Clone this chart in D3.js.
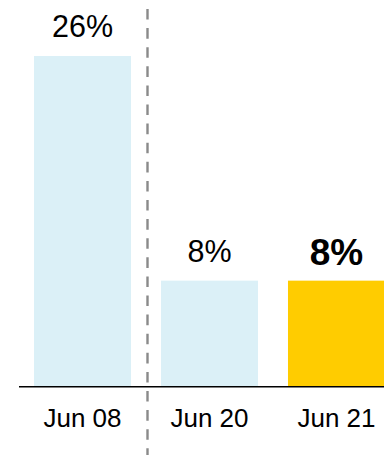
<!DOCTYPE html>
<html>
<head>
<meta charset="utf-8">
<script src="https://cdn.jsdelivr.net/npm/d3@7"></script>
<style>
  html, body { margin: 0; padding: 0; background: #fff; }
  svg { display: block; font-family: "Liberation Sans", Arial, sans-serif; }
</style>
</head>
<body>
<svg id="chart" width="384" height="455"></svg>
<script>
const categories = ["Jun 08", "Jun 20", "Jun 21"];
const values = [26, 8.3, 8.3];
const highlight = [false, false, true];

const W = 384, H = 455;
const svg = d3.select("#chart");

const x = d3.scaleBand()
  .domain(categories)
  .range([19, 400])
  .paddingInner(0.236)
  .paddingOuter(0.118);

const y = d3.scaleLinear()
  .domain([0, 26])
  .range([386, 56]);

// bars
svg.append("g").selectAll("rect")
  .data(categories)
  .join("rect")
  .attr("x", d => x(d))
  .attr("y", (d, i) => y(values[i]))
  .attr("width", x.bandwidth())
  .attr("height", (d, i) => y(0) - y(values[i]))
  .attr("fill", (d, i) => highlight[i] ? "#FFCC00" : "#DBF0F7");

// baseline
svg.append("line")
  .attr("x1", 19).attr("x2", W)
  .attr("y1", y(0) + 0.75).attr("y2", y(0) + 0.75)
  .attr("stroke", "#000").attr("stroke-width", 1.5);

// dashed separator between first and second bar
const sepX = (x(categories[0]) + x.bandwidth() + x(categories[1])) / 2 + 1.5;
svg.append("line")
  .attr("x1", sepX).attr("x2", sepX)
  .attr("y1", 9).attr("y2", H)
  .attr("stroke", "#8a8a8a")
  .attr("stroke-width", 2.4)
  .attr("stroke-dasharray", "10.6,8.5");

// value labels
const fmt = d3.format(".0f");
svg.append("g").selectAll("text")
  .data(categories)
  .join("text")
  .attr("x", d => x(d) + x.bandwidth() / 2)
  .attr("y", (d, i) => y(values[i]) - (highlight[i] ? 15.5 : 19))
  .attr("text-anchor", "middle")
  .attr("font-size", (d, i) => highlight[i] ? 37 : 30.5)
  .attr("font-weight", (d, i) => highlight[i] ? "bold" : "normal")
  .attr("fill", "#000")
  .text((d, i) => fmt(values[i]) + "%");

// category axis
const axis = d3.axisBottom(x).tickSize(0).tickPadding(0);
const gAxis = svg.append("g")
  .attr("transform", `translate(0, ${y(0)})`)
  .call(axis);
gAxis.select(".domain").remove();
gAxis.selectAll("text")
  .attr("dy", null)
  .attr("y", 41)
  .attr("font-size", 26)
  .attr("font-family", "'Liberation Sans', Arial, sans-serif")
  .attr("fill", "#000");
</script>
</body>
</html>
